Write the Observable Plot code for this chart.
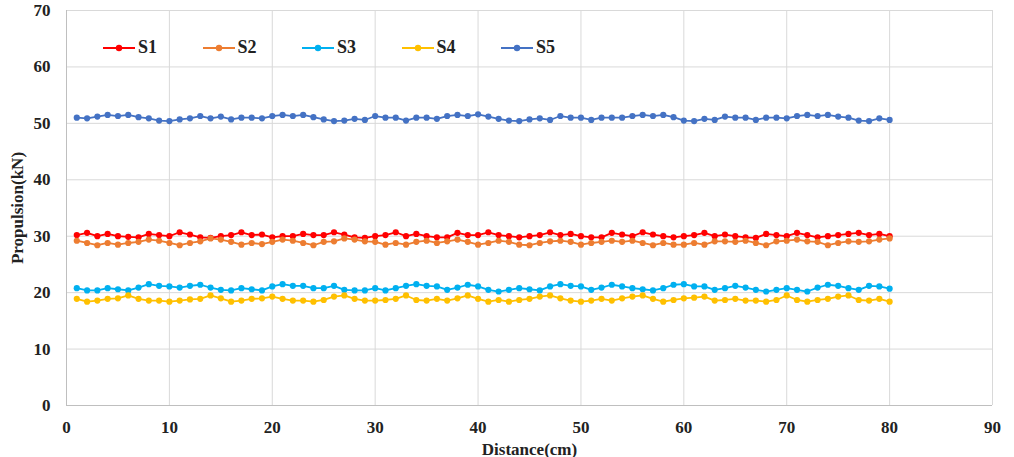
<!DOCTYPE html>
<html><head><meta charset="utf-8">
<script src="https://cdn.jsdelivr.net/npm/d3@7"></script>
<script src="https://cdn.jsdelivr.net/npm/@observablehq/plot@0.6"></script>
<style>
html,body{margin:0;padding:0;background:#fff;}
#wrap{position:relative;width:1014px;height:457px;overflow:hidden;}
#legend{position:absolute;left:103px;top:37px;display:flex;font-family:"Liberation Serif",serif;font-weight:bold;font-size:18px;color:#222;}
.item{display:flex;align-items:center;width:99.5px;}
.item svg{margin-right:3px;}
</style></head>
<body><div id="wrap"><div id="chart"></div><div id="legend"></div></div>
<script>
const seriesNames = ["S1","S2","S3","S4","S5"];
const colors = ["#ff0000","#ed7d31","#00b0f0","#ffc000","#4472c4"];
const distance = d3.range(1, 81);
const s1 = [30.2,30.6,30.0,30.4,30.0,29.9,29.8,30.4,30.2,30.0,30.7,30.3,29.8,29.7,30.0,30.2,30.7,30.2,30.3,29.8,
  30.0,30.0,30.4,30.2,30.2,30.7,30.3,29.8,29.7,30.0,30.2,30.7,30.0,30.4,30.0,29.8,29.8,30.6,30.2,30.2,
  30.7,30.2,30.0,29.8,30.0,30.2,30.7,30.2,30.4,30.0,29.8,29.8,30.6,30.3,30.0,30.7,30.3,30.0,29.8,30.0,
  30.2,30.6,30.0,30.3,30.0,29.8,29.7,30.4,30.2,30.0,30.6,30.2,29.8,30.0,30.2,30.4,30.6,30.2,30.4,30.0];
const s2 = [29.2,28.8,28.4,28.8,28.5,28.8,29.0,29.4,29.2,28.8,28.4,28.8,29.1,29.6,29.4,29.0,28.5,28.8,28.6,29.0,
  29.4,29.2,28.8,28.4,29.0,29.1,29.6,29.4,29.1,29.0,28.5,28.8,28.5,29.0,29.2,28.8,29.1,29.4,29.0,28.5,
  28.8,29.2,29.0,28.5,28.4,28.8,29.1,29.2,29.0,28.5,28.8,29.0,29.2,29.0,29.2,28.8,28.4,28.8,28.5,28.5,
  28.8,28.5,29.1,29.1,29.0,29.2,28.8,28.4,29.1,29.2,29.4,29.1,29.0,28.4,28.8,29.1,29.0,29.1,29.4,29.6];
const s3 = [20.8,20.4,20.4,20.8,20.6,20.4,20.9,21.5,21.2,21.1,20.9,21.2,21.4,20.9,20.5,20.4,20.8,20.6,20.4,21.1,
  21.5,21.2,21.2,20.8,20.8,21.2,20.5,20.4,20.4,20.8,20.4,20.8,21.2,21.5,21.2,21.1,20.5,20.9,21.4,21.1,
  20.5,20.2,20.5,20.8,20.6,20.4,21.1,21.5,21.2,21.1,20.5,20.9,21.4,21.1,20.8,20.6,20.4,20.8,21.4,21.5,
  21.1,21.1,20.5,20.8,21.2,20.9,20.5,20.2,20.5,20.8,20.5,20.2,20.9,21.4,21.2,20.8,20.5,21.2,21.1,20.7];
const s4 = [18.9,18.4,18.6,18.9,19.0,19.5,18.9,18.6,18.6,18.4,18.6,18.8,18.9,19.5,19.0,18.4,18.6,18.9,19.0,19.3,
  18.9,18.6,18.6,18.4,18.7,19.3,19.5,18.9,18.6,18.6,18.7,18.9,19.5,18.7,18.6,18.9,18.6,19.0,19.5,18.9,
  18.4,18.7,18.4,18.7,18.9,19.3,19.5,19.0,18.6,18.4,18.6,18.9,18.6,19.0,19.3,19.5,18.9,18.4,18.7,19.0,
  19.1,19.3,18.6,18.7,18.9,18.6,18.6,18.4,18.7,19.5,18.7,18.4,18.7,18.9,19.3,19.5,18.7,18.6,18.9,18.4];
const s5 = [51.0,50.9,51.2,51.5,51.3,51.5,51.1,50.9,50.5,50.4,50.7,50.9,51.3,50.9,51.2,50.7,51.0,51.0,50.9,51.3,
  51.5,51.3,51.5,51.1,50.7,50.4,50.5,50.8,50.6,51.3,51.0,51.0,50.5,51.0,51.0,50.8,51.3,51.5,51.3,51.6,
  51.2,50.8,50.5,50.4,50.7,50.9,50.6,51.3,51.0,51.0,50.6,51.0,51.0,51.0,51.3,51.5,51.3,51.5,51.1,50.5,
  50.4,50.8,50.6,51.2,51.0,51.0,50.6,51.0,51.0,50.9,51.3,51.5,51.3,51.5,51.2,51.0,50.5,50.4,50.9,50.6];
const xTicks = d3.range(0, 91, 10);
const yTicks = d3.range(0, 71, 10);

const allSeries = [s1, s2, s3, s4, s5];
const data = allSeries.flatMap((vals, i) => vals.map((v, j) => ({series: seriesNames[i], x: distance[j], y: v})));

const chart = Plot.plot({
  width: 1014, height: 457,
  marginLeft: 66, marginRight: 22, marginTop: 10, marginBottom: 52,
  style: {fontFamily: "'Liberation Serif', serif", fontWeight: "bold", fontSize: "17px", color: "#222", background: "#fff"},
  x: {domain: [0, 90]},
  y: {domain: [0, 70]},
  color: {domain: seriesNames, range: colors},
  marks: [
    Plot.gridX(xTicks, {stroke: "#d9d9d9", strokeOpacity: 1}),
    Plot.gridY(yTicks, {stroke: "#d9d9d9", strokeOpacity: 1}),
    Plot.ruleX([0], {stroke: "#bfbfbf"}),
    Plot.ruleY([0], {stroke: "#bfbfbf"}),
    Plot.axisX(xTicks, {tickSize: 0, tickPadding: 15, label: "Distance(cm)", labelAnchor: "center", labelArrow: "none", labelOffset: 49}),
    Plot.axisY(yTicks, {tickSize: 0, tickPadding: 16, label: "Propulsion(kN)", labelAnchor: "center", labelArrow: "none", labelOffset: 56}),
    Plot.line(data, {x: "x", y: "y", z: "series", stroke: "series", strokeWidth: 1.8}),
    Plot.dot(data, {x: "x", y: "y", fill: "series", r: 3.1})
  ]
});
document.getElementById("chart").appendChild(chart);

const legend = document.getElementById("legend");
seriesNames.forEach((name, i) => {
  const item = document.createElement("div");
  item.className = "item";
  item.innerHTML = `<svg width="32" height="10"><line x1="0" x2="32" y1="5" y2="5" stroke="${colors[i]}" stroke-width="2"/><circle cx="16" cy="5" r="3.2" fill="${colors[i]}"/></svg><span>${name}</span>`;
  legend.appendChild(item);
});
</script></body></html>
